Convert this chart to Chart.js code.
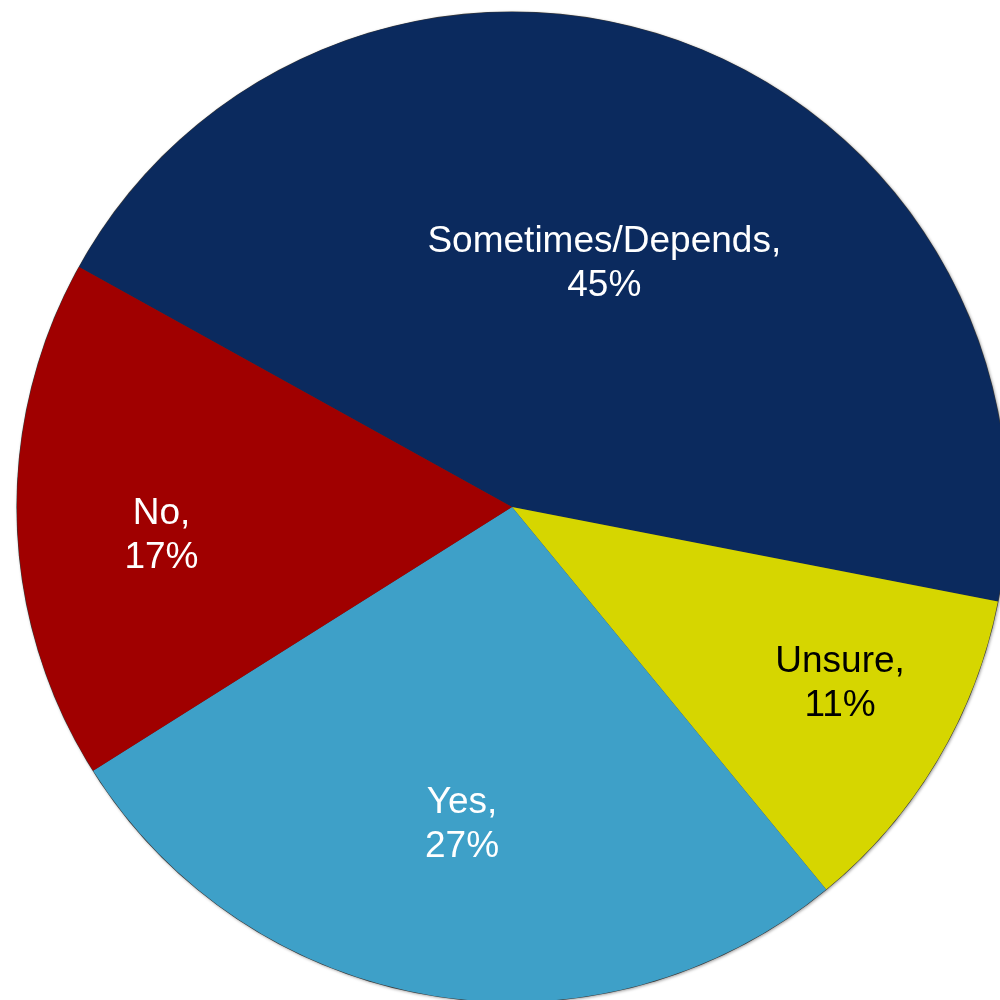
<!DOCTYPE html>
<html>
<head>
<meta charset="utf-8">
<title>Sometimes / Depends</title>
<script src="https://cdn.jsdelivr.net/npm/chart.js@4.4.1/dist/chart.umd.min.js"></script>
<style>
    html, body { margin: 0; padding: 0; background: #ffffff; }
    #wrap { width: 1000px; height: 1000px; }
</style>
</head>
<body>
<div id="wrap"><canvas id="pieChart" width="1000" height="1000"></canvas></div>
<script>
// ------------------------------------------------------------
// Survey answers (percent)
// ------------------------------------------------------------
const categories = ["Sometimes/Depends", "Unsure", "Yes", "No"];
const percents   = [45, 11, 27, 17];

const sliceColors = ["#0b2a5e", "#d6d600", "#3ea0c8", "#a00000"];
const labelColors = ["#ffffff", "#000000", "#ffffff", "#ffffff"];

// where each label sits: fraction of the radius and a small angle nudge (deg)
const labelRadius = [0.53, 0.75, 0.645, 0.71];
const labelNudge  = [0.6, -2.9, -0.2, -2.6];

// soft rim behind the pie
const pieShadow = {
    id: "pieShadow",
    beforeDatasetsDraw(chart) {
        const arc = chart.getDatasetMeta(0).data[0];
        if (!arc) return;
        const ctx = chart.ctx;
        ctx.save();
        ctx.beginPath();
        ctx.arc(arc.x, arc.y, arc.outerRadius + 0.6, 0, Math.PI * 2);
        ctx.fillStyle = "#3a3a3a";
        ctx.shadowColor = "rgba(0,0,0,0.35)";
        ctx.shadowBlur = 3;
        ctx.shadowOffsetX = 1;
        ctx.shadowOffsetY = 1;
        ctx.fill();
        ctx.restore();
    }
};

// two-line labels "Name," / "NN%"
const sliceLabels = {
    id: "sliceLabels",
    afterDatasetsDraw(chart) {
        const ctx = chart.ctx;
        const meta = chart.getDatasetMeta(0);
        ctx.save();
        ctx.font = "37px 'Liberation Sans', Arial, sans-serif";
        ctx.textAlign = "center";
        ctx.textBaseline = "alphabetic";
        meta.data.forEach((arc, i) => {
            const mid = (arc.startAngle + arc.endAngle) / 2 + labelNudge[i] * Math.PI / 180;
            const r = arc.outerRadius * labelRadius[i];
            const cx = arc.x + Math.cos(mid) * r;
            const cy = arc.y + Math.sin(mid) * r;
            ctx.fillStyle = labelColors[i];
            ctx.fillText(categories[i] + ",", cx, cy - 22 + 13);
            ctx.fillText(percents[i] + "%", cx, cy + 22 + 13);
        });
        ctx.restore();
    }
};

const ctx = document.getElementById("pieChart").getContext("2d");

new Chart(ctx, {
    type: "pie",
    data: {
        labels: categories,
        datasets: [{
            data: percents,
            backgroundColor: sliceColors,
            borderWidth: 0,
            clip: false
        }]
    },
    options: {
        responsive: false,
        animation: false,
        rotation: 299,
        radius: 495,
        layout: { padding: { left: 24, top: 14, right: 0, bottom: 0 } },
        plugins: {
            legend: { display: false },
            tooltip: { enabled: false }
        }
    },
    plugins: [pieShadow, sliceLabels]
});
</script>
</body>
</html>
